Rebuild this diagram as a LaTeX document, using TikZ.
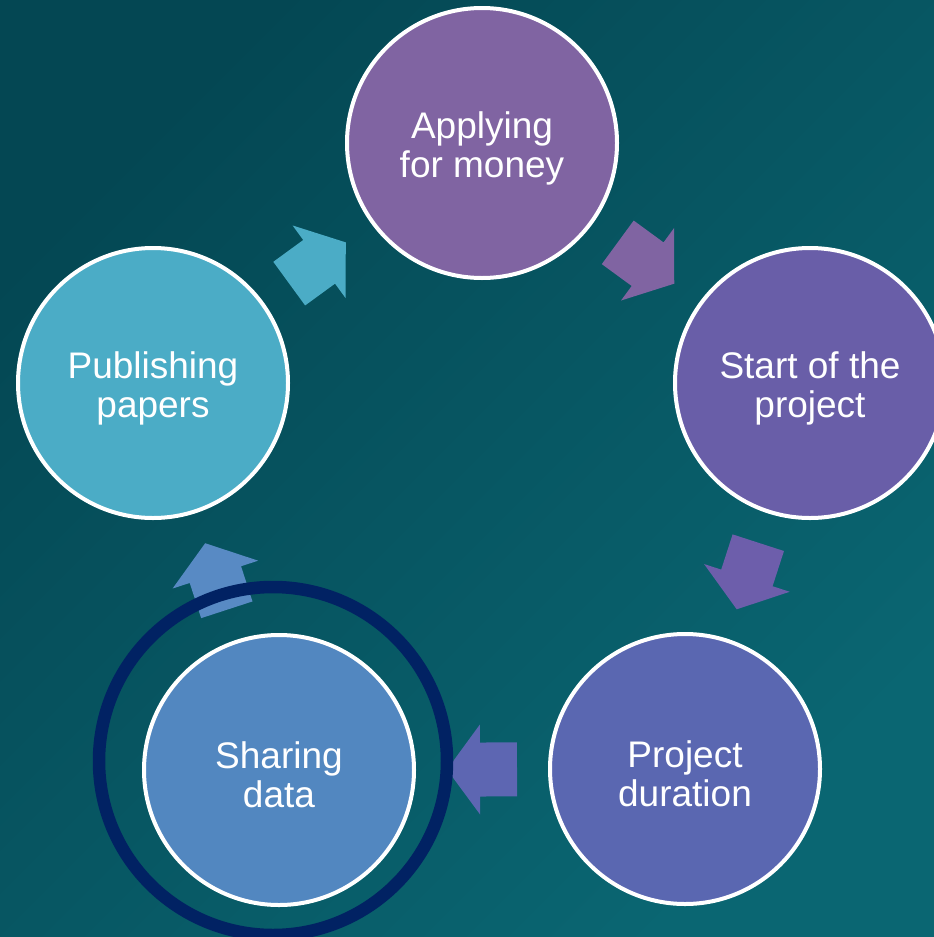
\documentclass[tikz,border=0pt]{standalone}
\usepackage{fontspec}
\setmainfont{Liberation Sans}
\usetikzlibrary{calc}
\definecolor{bgA}{HTML}{044753}
\definecolor{bgB}{HTML}{0A6672}
\definecolor{cApp}{HTML}{8064A2}
\definecolor{cStart}{HTML}{695EA8}
\definecolor{cDur}{HTML}{5A67B1}
\definecolor{cShare}{HTML}{5287C0}
\definecolor{cPub}{HTML}{4BACC6}
\definecolor{aA}{HTML}{4BACC6}
\definecolor{aB}{HTML}{8064A2}
\definecolor{aC}{HTML}{6D5EAB}
\definecolor{aD}{HTML}{5D66B2}
\definecolor{aE}{HTML}{588AC4}
\definecolor{ringc}{HTML}{012263}
\newcommand{\topstrut}{\rule{0pt}{37pt}}
\pgfdeclarelayer{bg}
\pgfdeclarelayer{arr}
\pgfsetlayers{bg,arr,main}
\begin{document}
\begin{tikzpicture}[x=1pt,y=-1pt,
  stage/.style={circle, draw=white, line width=4pt, minimum size=270pt,
    inner sep=0pt, text=white, align=center,
    font=\fontsize{37pt}{39pt}\selectfont}]
\useasboundingbox (0,0) rectangle (934,937);
\begin{pgfonlayer}{bg}
  \shade[top color=bgA, bottom color=bgB, shading angle=45] (0,0) rectangle (934,937);
\end{pgfonlayer}
\begin{scope}
  \clip (0,0) rectangle (934,937);
  \node[stage, fill=cApp]   (app)   at (482,143) {\topstrut Applying\\for money};
  \node[stage, fill=cStart] (start) at (810,383) {\topstrut Start of the\\project};
  \node[stage, fill=cDur]   (dur)   at (685,769) {\topstrut Project\\duration};
  \node[stage, fill=cShare] (share) at (279,770) {\topstrut Sharing\\data};
  \node[stage, fill=cPub]   (pub)   at (153,383) {\topstrut Publishing\\papers};
\end{scope}
\begin{pgfonlayer}{arr}
  \foreach \a/\b/\c in {pub/app/aA, app/start/aB, start/dur/aC, dur/share/aD, share/pub/aE}{
    \coordinate (M) at ($(\a.center)!0.5!(\b.center)$);
    \coordinate (T) at ($(M)!35pt!(\b.center)$);
    \coordinate (N) at ($(M)!2pt!(\b.center)$);
    \coordinate (C) at ($(M)!-35pt!(\b.center)$);
    \fill[\c] ($(C)!27pt!90:(\b.center)$) -- ($(N)!27pt!90:(\b.center)$)
      -- ($(N)!45pt!90:(\b.center)$) -- (T) -- ($(N)!45pt!-90:(\b.center)$)
      -- ($(N)!27pt!-90:(\b.center)$) -- ($(C)!27pt!-90:(\b.center)$) -- cycle;
  }
  \begin{scope}
    \clip (0,0) rectangle (934,937);
    \coordinate (ringc0) at ($(share.center)+(-6,-9)$);
    \draw[ringc, line width=12.5pt] (ringc0) circle[radius=174pt];
  \end{scope}
\end{pgfonlayer}
\end{tikzpicture}
\end{document}
